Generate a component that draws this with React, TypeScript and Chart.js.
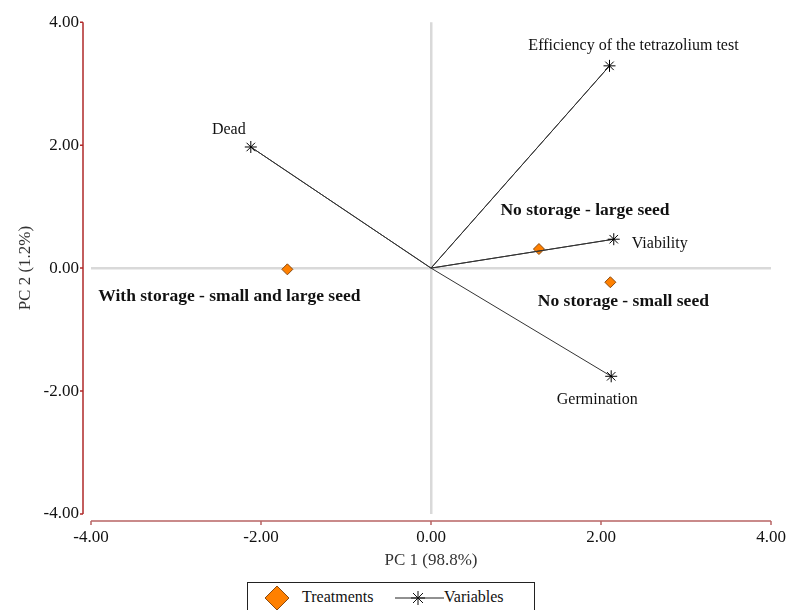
import React, { useEffect, useRef } from "react";
import { Chart, registerables } from "chart.js";

Chart.register(...registerables);

// ---- data ----
const variableNames = ["Efficiency of the tetrazolium test", "Dead", "Viability", "Germination"];
const variableX = [2.1, -2.12, 2.15, 2.12];
const variableY = [3.29, 1.97, 0.47, -1.76];

const treatmentNames = ["No storage - large seed", "No storage - small seed", "With storage - small and large seed"];
const treatmentX = [1.27, 2.11, -1.69];
const treatmentY = [0.31, -0.23, -0.02];

const axisMin = -4;
const axisMax = 4;
const axisStep = 2;
const xTitle = "PC 1 (98.8%)";
const yTitle = "PC 2 (1.2%)";
const legendLabels = ["Treatments", "Variables"];

// ---- label styling (pixel offsets from the marker) ----
const variableLabelStyle = [
  { dx: 24, dy: -20, align: "center" },
  { dx: -22, dy: -17, align: "center" },
  { dx: 18, dy: 5, align: "left" },
  { dx: -14, dy: 24, align: "center" },
];
const treatmentLabelStyle = [
  { dx: 46, dy: -39, align: "center" },
  { dx: 13, dy: 19, align: "center" },
  { dx: -58, dy: 27, align: "center" },
];

const SERIF = "'Liberation Serif', 'Times New Roman', serif";
const ORANGE = "#ff8000";
const ORANGE_BORDER = "#8a4a10";

const axesPlugin = {
  id: "offsetAxes",
  afterDraw(chart: any) {
    const { ctx, chartArea } = chart;
    const xs = chart.scales.x;
    const ys = chart.scales.y;
    ctx.save();
    // y axis
    const ax = chartArea.left - 8;
    ctx.strokeStyle = "#b02a2a";
    ctx.lineWidth = 1.5;
    ctx.beginPath();
    ctx.moveTo(ax, ys.getPixelForValue(axisMax));
    ctx.lineTo(ax, ys.getPixelForValue(axisMin));
    ys.ticks.forEach((t: any) => {
      const py = ys.getPixelForValue(t.value);
      ctx.moveTo(ax - 3, py);
      ctx.lineTo(ax, py);
    });
    ctx.stroke();
    // x axis
    const ay = chartArea.bottom + 7;
    ctx.strokeStyle = "#b86464";
    ctx.beginPath();
    ctx.moveTo(xs.getPixelForValue(axisMin), ay);
    ctx.lineTo(xs.getPixelForValue(axisMax), ay);
    xs.ticks.forEach((t: any) => {
      const px = xs.getPixelForValue(t.value);
      ctx.moveTo(px, ay);
      ctx.lineTo(px, ay + 4);
    });
    ctx.stroke();
    ctx.restore();
  },
};

const labelsPlugin = {
  id: "pointLabels",
  afterDatasetsDraw(chart: any) {
    const { ctx } = chart;
    const xs = chart.scales.x;
    const ys = chart.scales.y;
    ctx.save();
    ctx.fillStyle = "#111";
    ctx.textBaseline = "middle";
    ctx.font = `16px ${SERIF}`;
    variableNames.forEach((name, i) => {
      const s = variableLabelStyle[i];
      ctx.textAlign = s.align;
      ctx.fillText(name, xs.getPixelForValue(variableX[i]) + s.dx, ys.getPixelForValue(variableY[i]) + s.dy);
    });
    ctx.font = `bold 17.5px ${SERIF}`;
    treatmentNames.forEach((name, i) => {
      const s = treatmentLabelStyle[i];
      ctx.textAlign = s.align;
      ctx.fillText(name, xs.getPixelForValue(treatmentX[i]) + s.dx, ys.getPixelForValue(treatmentY[i]) + s.dy);
    });
    ctx.restore();
  },
};

export default function App() {
  const ref = useRef<HTMLCanvasElement>(null);

  useEffect(() => {
    if (!ref.current) return;
    const vectorData: { x: number; y: number }[] = [];
    variableX.forEach((vx, i) => {
      vectorData.push({ x: 0, y: 0 });
      vectorData.push({ x: vx, y: variableY[i] });
    });
    const treatmentData = treatmentX.map((tx, i) => ({ x: tx, y: treatmentY[i] }));

    const zeroGrid = (ctx: any) => (ctx.tick && ctx.tick.value === 0 ? "#d9d9d9" : "rgba(0,0,0,0)");

    const chart = new Chart(ref.current, {
      type: "scatter",
      data: {
        datasets: [
          {
            label: "Variables",
            data: vectorData,
            showLine: true,
            borderColor: "#333",
            borderWidth: 1,
            pointStyle: "star",
            pointRadius: (c: any) => (c.dataIndex % 2 === 1 ? 6 : 0),
            pointBorderColor: "#000",
            pointBorderWidth: 1,
            backgroundColor: "#000",
          },
          {
            label: "Treatments",
            data: treatmentData,
            pointStyle: "rectRot",
            pointRadius: 5.5,
            backgroundColor: ORANGE,
            borderColor: ORANGE_BORDER,
            borderWidth: 1,
          },
        ],
      },
      options: {
        responsive: false,
        animation: false,
        layout: { padding: { top: 22, right: 20, left: 0, bottom: 0 } },
        plugins: { legend: { display: false }, tooltip: { enabled: false } },
        scales: {
          x: {
            type: "linear",
            min: axisMin,
            max: axisMax,
            afterFit: (s: any) => {
              s.height = 96;
              s.paddingLeft = 0;
              s.paddingRight = 0;
            },
            ticks: {
              stepSize: axisStep,
              callback: (v: any) => Number(v).toFixed(2),
              font: { family: SERIF, size: 17 },
              color: "#111",
              padding: 13,
              maxRotation: 0,
            },
            grid: { color: zeroGrid, lineWidth: 2.5, drawTicks: false },
            border: { display: false },
            title: {
              display: true,
              text: xTitle,
              font: { family: SERIF, size: 17 },
              color: "#333",
              padding: { top: 0, bottom: 39 },
            },
          },
          y: {
            type: "linear",
            min: axisMin,
            max: axisMax,
            afterFit: (s: any) => {
              s.width = 91;
            },
            ticks: {
              stepSize: axisStep,
              callback: (v: any) => Number(v).toFixed(2),
              font: { family: SERIF, size: 17 },
              color: "#111",
              padding: 12,
            },
            grid: { color: zeroGrid, lineWidth: 2.5, drawTicks: false },
            border: { display: false },
            title: {
              display: true,
              text: yTitle,
              font: { family: SERIF, size: 17 },
              color: "#333",
              padding: { top: 15, bottom: 0 },
            },
          },
        },
      },
      plugins: [axesPlugin, labelsPlugin],
    } as any);
    return () => chart.destroy();
  }, []);

  return (
    <div style={{ position: "absolute", left: 0, top: 0, width: 791, height: 610, overflow: "hidden", background: "#fff" }}>
      <canvas ref={ref} width={791} height={610} style={{ position: "absolute", left: 0, top: 0 }} />
      <div
        style={{
          position: "absolute",
          left: 247,
          top: 582,
          width: 288,
          height: 40,
          border: "1px solid #222",
          boxSizing: "border-box",
          background: "#fff",
          fontFamily: SERIF,
          fontSize: 16,
          color: "#111",
        }}
      >
        <svg width={26} height={26} style={{ position: "absolute", left: 16, top: 2 }}>
          <polygon points="13,1 25,13 13,25 1,13" fill={ORANGE} stroke={ORANGE_BORDER} strokeWidth={1} />
        </svg>
        <span style={{ position: "absolute", left: 54, top: 5 }}>{legendLabels[0]}</span>
        <svg width={50} height={26} style={{ position: "absolute", left: 147, top: 2 }}>
          <line x1={0} y1={13} x2={49} y2={13} stroke="#222" strokeWidth={1} />
          <g stroke="#111" strokeWidth={1}>
            <line x1={23} y1={6} x2={23} y2={20} />
            <line x1={16} y1={13} x2={30} y2={13} />
            <line x1={18} y1={8} x2={28} y2={18} />
            <line x1={28} y1={8} x2={18} y2={18} />
          </g>
        </svg>
        <span style={{ position: "absolute", left: 196, top: 5 }}>{legendLabels[1]}</span>
      </div>
    </div>
  );
}
